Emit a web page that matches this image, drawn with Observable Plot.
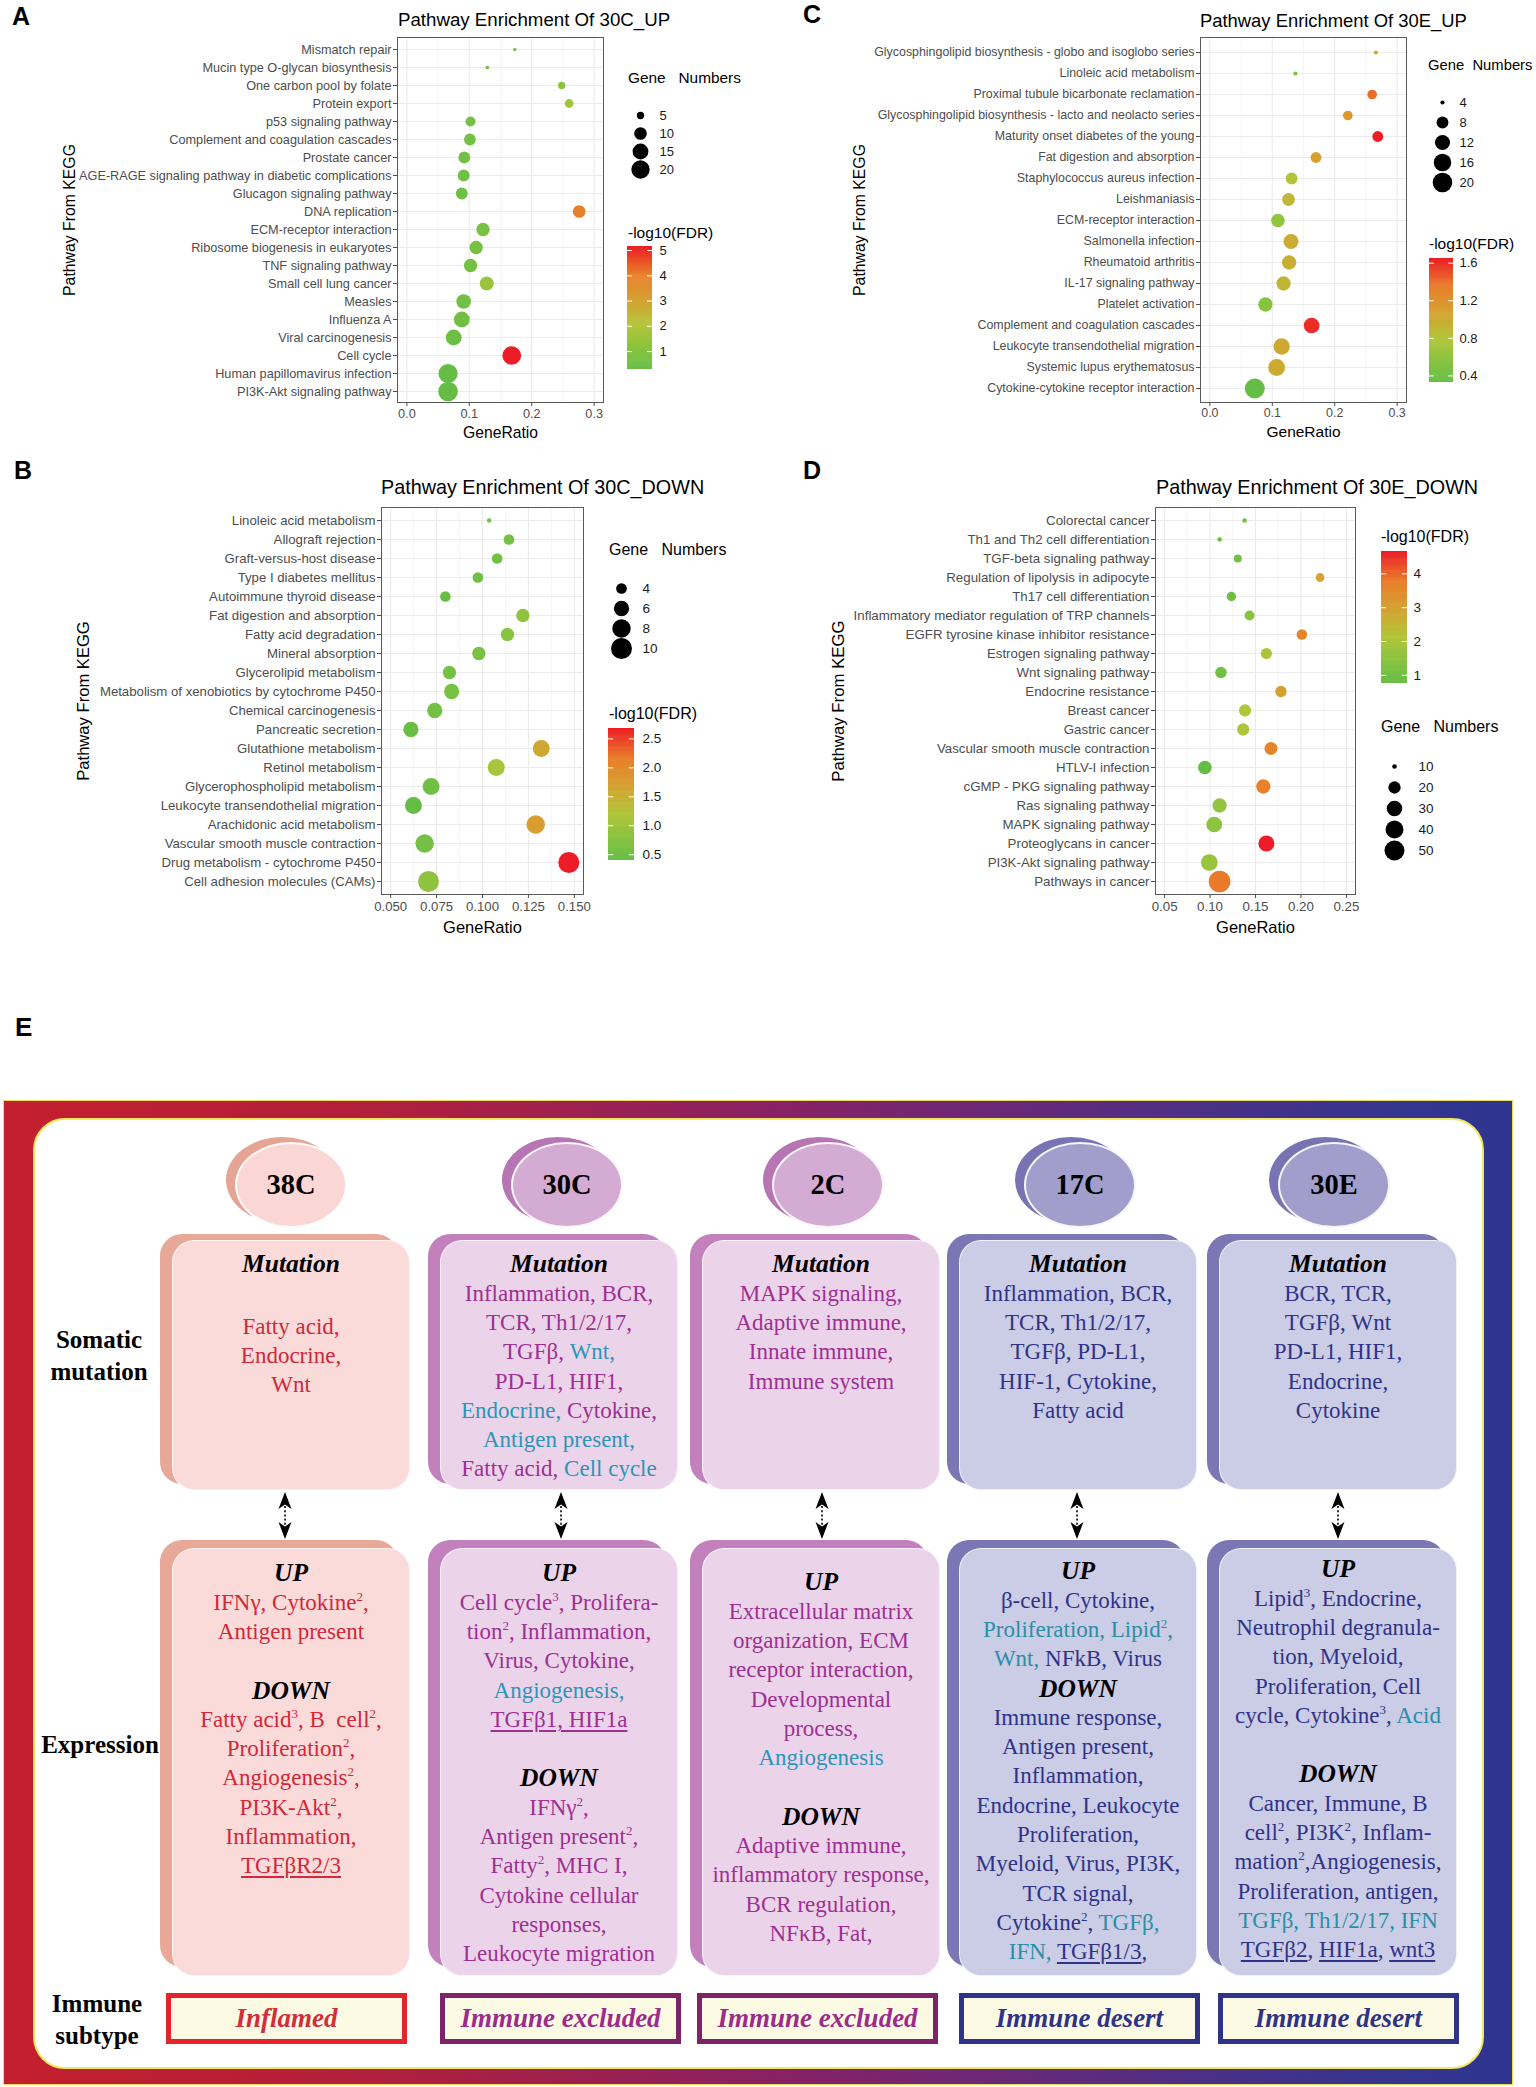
<!DOCTYPE html>
<html><head><meta charset="utf-8">
<script src="https://cdn.jsdelivr.net/npm/d3@7"></script>
<script src="https://cdn.jsdelivr.net/npm/@observablehq/plot@0.6"></script>
<style>
body{margin:0;background:#fff;}
#page{position:relative;width:1536px;height:2087px;overflow:hidden;background:#fff;font-family:"Liberation Sans",Arial,sans-serif;}
.abs{position:absolute;box-sizing:border-box;}
.tb{position:absolute;text-align:center;font-family:"Liberation Serif","Times New Roman",serif;font-size:23px;line-height:29.3px;white-space:nowrap;}
.tb .hd{font-weight:bold;font-style:italic;font-size:25.5px;color:#000;}
.tb .gap{height:33px;}
.tb sup{font-size:13px;vertical-align:9px;line-height:0;}
.tb u{text-decoration-thickness:1.5px;text-underline-offset:3px;}
.rowlab{position:absolute;text-align:center;font-family:"Liberation Serif","Times New Roman",serif;font-weight:bold;font-size:25px;line-height:32px;color:#000;white-space:nowrap;}
</style></head>
<body><div id="page"></div>
<script>
// ---------------- DATA ----------------
const pathwaysA = ["Mismatch repair","Mucin type O-glycan biosynthesis","One carbon pool by folate","Protein export","p53 signaling pathway","Complement and coagulation cascades","Prostate cancer","AGE-RAGE signaling pathway in diabetic complications","Glucagon signaling pathway","DNA replication","ECM-receptor interaction","Ribosome biogenesis in eukaryotes","TNF signaling pathway","Small cell lung cancer","Measles","Influenza A","Viral carcinogenesis","Cell cycle","Human papillomavirus infection","PI3K-Akt signaling pathway"];
const ratioA = [0.173,0.129,0.248,0.260,0.102,0.101,0.092,0.091,0.088,0.276,0.122,0.111,0.102,0.128,0.091,0.088,0.075,0.168,0.066,0.066];
const countA = [4,4,5,6,7,9,9,9,9,10,11,11,11,12,13,15,15,21,22,23];
const fdrA = [1.0,0.5,1.2,1.6,0.6,0.6,0.6,0.55,0.5,4.0,0.75,0.7,0.6,1.5,0.55,0.55,0.45,5.16,0.29,0.3];

const pathwaysB = ["Linoleic acid metabolism","Allograft rejection","Graft-versus-host disease","Type I diabetes mellitus","Autoimmune thyroid disease","Fat digestion and absorption","Fatty acid degradation","Mineral absorption","Glycerolipid metabolism","Metabolism of xenobiotics by cytochrome P450","Chemical carcinogenesis","Pancreatic secretion","Glutathione metabolism","Retinol metabolism","Glycerophospholipid metabolism","Leukocyte transendothelial migration","Arachidonic acid metabolism","Vascular smooth muscle contraction","Drug metabolism - cytochrome P450","Cell adhesion molecules (CAMs)"];
const ratioB = [0.1036,0.1144,0.108,0.0975,0.0798,0.122,0.1136,0.098,0.082,0.0832,0.074,0.061,0.132,0.1075,0.072,0.0624,0.129,0.0685,0.147,0.0706];
const countB = [3,4,4,4,4,5,5,5,5,6,6,6,7,7,7,7,8,8,10,10];
const fdrB = [0.6,0.55,0.55,0.5,0.45,0.85,0.75,0.6,0.55,0.6,0.55,0.45,1.6,1.1,0.5,0.4,1.75,0.55,2.68,0.85];

const pathwaysC = ["Glycosphingolipid biosynthesis - globo and isoglobo series","Linoleic acid metabolism","Proximal tubule bicarbonate reclamation","Glycosphingolipid biosynthesis - lacto and neolacto series","Maturity onset diabetes of the young","Fat digestion and absorption","Staphylococcus aureus infection","Leishmaniasis","ECM-receptor interaction","Salmonella infection","Rheumatoid arthritis","IL-17 signaling pathway","Platelet activation","Complement and coagulation cascades","Leukocyte transendothelial migration","Systemic lupus erythematosus","Cytokine-cytokine receptor interaction"];
const ratioC = [0.266,0.137,0.260,0.221,0.269,0.170,0.131,0.126,0.109,0.130,0.127,0.118,0.089,0.163,0.115,0.107,0.072];
const countC = [4,4,6,6,7,7,8,9,10,12,11,11,11,13,14,15,21];
const fdrC = [1.0,0.45,1.4,1.15,1.65,1.1,0.8,0.9,0.6,1.0,0.97,0.92,0.55,1.6,1.02,1.0,0.33];

const pathwaysD = ["Colorectal cancer","Th1 and Th2 cell differentiation","TGF-beta signaling pathway","Regulation of lipolysis in adipocyte","Th17 cell differentiation","Inflammatory mediator regulation of TRP channels","EGFR tyrosine kinase inhibitor resistance","Estrogen signaling pathway","Wnt signaling pathway","Endocrine resistance","Breast cancer","Gastric cancer","Vascular smooth muscle contraction","HTLV-I infection","cGMP - PKG signaling pathway","Ras signaling pathway","MAPK signaling pathway","Proteoglycans in cancer","PI3K-Akt signaling pathway","Pathways in cancer"];
const ratioD = [0.138,0.1105,0.1305,0.221,0.1235,0.1435,0.201,0.162,0.112,0.178,0.1385,0.1365,0.167,0.0943,0.1586,0.1105,0.1046,0.162,0.0992,0.1105];
const countD = [10,10,12,13,14,15,16,17,18,18,20,20,22,24,26,26,31,32,35,59];
const fdrD = [1.1,0.9,1.0,2.9,0.95,1.4,3.6,2.0,1.0,3.0,2.1,2.05,3.6,0.76,3.7,1.6,1.5,4.66,1.7,3.8];

const titles = ["Pathway Enrichment Of 30C_UP","Pathway Enrichment Of 30C_DOWN","Pathway Enrichment Of 30E_UP","Pathway Enrichment Of 30E_DOWN"];
const sizeBreaksA = [5,10,15,20], sizeBreaksB = [4,6,8,10], sizeBreaksC = [4,8,12,16,20], sizeBreaksD = [10,20,30,40,50];
const colorBreaksA = [1,2,3,4,5], colorBreaksB = [0.5,1.0,1.5,2.0,2.5], colorBreaksC = [0.4,0.8,1.2,1.6], colorBreaksD = [1,2,3,4];

// Panel E content
const groups = ["38C","30C","2C","17C","30E"];
const subtypes = ["Inflamed","Immune excluded","Immune excluded","Immune desert","Immune desert"];
const mutationText = [
  ["Mutation","~","Fatty acid,","Endocrine,","Wnt"],
  ["Mutation","Inflammation, BCR,","TCR, Th1/2/17,","TGFβ, {Wnt,}","PD-L1, HIF1,","{Endocrine,} Cytokine,","{Antigen present,}","Fatty acid, {Cell cycle}"],
  ["Mutation","MAPK signaling,","Adaptive immune,","Innate immune,","Immune system"],
  ["Mutation","Inflammation, BCR,","TCR, Th1/2/17,","TGFβ, PD-L1,","HIF-1, Cytokine,","Fatty acid"],
  ["Mutation","BCR, TCR,","TGFβ, Wnt","PD-L1, HIF1,","Endocrine,","Cytokine"]
];
const expressionText = [
  ["UP","IFNγ, Cytokine^2,","Antigen present","","DOWN","Fatty acid^3, B&nbsp; cell^2,","Proliferation^2,","Angiogenesis^2,","PI3K-Akt^2,","Inflammation,","[TGFβR2/3]"],
  ["UP","Cell cycle^3, Prolifera-","tion^2, Inflammation,","Virus, Cytokine,","{Angiogenesis,}","[TGFβ1, HIF1a]","","DOWN","IFNγ^2,","Antigen present^2,","Fatty^2, MHC I,","Cytokine cellular","responses,","Leukocyte migration"],
  ["UP","Extracellular matrix","organization, ECM","receptor interaction,","Developmental","process,","{Angiogenesis}","","DOWN","Adaptive immune,","inflammatory response,","BCR regulation,","NFκB, Fat,"],
  ["UP","β-cell, Cytokine,","{Proliferation, Lipid^2,}","{Wnt,} NFkB, Virus","DOWN","Immune response,","Antigen present,","Inflammation,","Endocrine, Leukocyte","Proliferation,","Myeloid, Virus, PI3K,","TCR signal,","Cytokine^2, {TGFβ,}","{IFN,} [TGFβ1/3],"],
  ["UP","Lipid^3, Endocrine,","Neutrophil degranula-","tion, Myeloid,","Proliferation, Cell","cycle, Cytokine^3, {Acid}","","DOWN","Cancer, Immune, B","cell^2, PI3K^2, Inflam-","mation^2,Angiogenesis,","Proliferation, antigen,","{TGFβ, Th1/2/17, IFN}","[TGFβ2], [HIF1a], [wnt3]"]
];

// ---------------- helpers ----------------
const page = document.getElementById("page");
const FONT = '"Liberation Sans", Arial, sans-serif';
const rampStops = [0, 0.15, 0.35, 0.56, 0.77, 1];
const rampColors = ["#66bd46","#84c341","#b2c53a","#d5a231","#e97e2a","#ec1d27"];
const ramp = d3.scaleLinear().domain(rampStops).range(rampColors).interpolate(d3.interpolateRgb);
const sqrtInterp = (a, b) => (t) => a + (b - a) * Math.sqrt(Math.max(0, Math.min(1, t)));

function place(node, left, top) {
  node.style.position = "absolute"; node.style.left = left + "px"; node.style.top = top + "px";
  page.appendChild(node);
}

function panel(p) {
  const data = p.names.map((n, i) => ({name: n, ratio: p.ratio[i], count: p.count[i], fdr: p.fdr[i]}));
  const rOpt = {type: "linear", domain: p.rDomain, range: p.rRange, interpolate: sqrtInterp};
  const cOpt = {type: "linear", domain: p.cDomain, interpolate: (t) => ramp(t)};
  const W = p.frame.r - p.svgLeft + 14, H = p.frame.b - p.svgTop + 48;
  const svg = Plot.plot({
    width: W, height: H,
    marginLeft: p.frame.l - p.svgLeft, marginTop: p.frame.t - p.svgTop,
    marginRight: W - (p.frame.r - p.svgLeft), marginBottom: H - (p.frame.b - p.svgTop),
    style: {fontFamily: FONT, background: "transparent", overflow: "visible"},
    x: {domain: p.xDomain},
    y: {type: "point", domain: p.names, padding: 0.6},
    r: rOpt, color: cOpt,
    marks: [
      Plot.ruleX(p.minor, {stroke: "#f3f3f3", strokeWidth: 0.8}),
      Plot.ruleX(p.major, {stroke: "#ebebeb", strokeWidth: 1.1}),
      Plot.ruleY(p.names, {y: d => d, stroke: "#ebebeb", strokeWidth: 1.1}),
      Plot.dot(data, {x: "ratio", y: "name", r: "count", fill: "fdr", stroke: null}),
      Plot.frame({stroke: "#5a5a5a", strokeWidth: 1}),
      Plot.axisY({tickSize: 4, tickPadding: 2, fontSize: p.fs, color: "#4d4d4d", label: null}),
      Plot.axisX({ticks: p.major, tickFormat: d3.format(p.fmt), tickSize: 4, tickPadding: p.xPad, fontSize: p.fs, color: "#4d4d4d", label: null}),
      Plot.text(["GeneRatio"], {text: d => d, frameAnchor: "bottom", lineAnchor: "middle", textAnchor: "middle", dy: p.xTitleDy, fontSize: p.axFs, fill: "#000"}),
      Plot.text(["Pathway From KEGG"], {text: d => d, frameAnchor: "left", lineAnchor: "middle", textAnchor: "middle", dx: p.yTitleDx, rotate: -90, fontSize: p.yFs, fill: "#000"})
    ]
  });
  place(svg, p.svgLeft, p.svgTop);

  // size legend
  const sl = p.sizeLeg, sv = p.sizeBreaks;
  const sTop = sl.y0 - 16, sH = sl.y1 - sl.y0 + 32;
  const ssvg = Plot.plot({
    width: 70, height: sH, margin: 0,
    style: {fontFamily: FONT, background: "transparent", overflow: "visible"},
    y: {type: "point", domain: sv, range: [16, sH - 16], axis: null},
    r: rOpt,
    marks: [
      Plot.dot(sv, {y: d => d, r: d => d, fill: "#000", frameAnchor: "left", dx: sl.dotX - sl.left}),
      Plot.text(sv, {y: d => d, text: d => String(d), frameAnchor: "left", dx: sl.labX - sl.left, textAnchor: "start", fontSize: p.legFs, fill: "#1a1a1a"})
    ]
  });
  place(ssvg, sl.left, sTop);

  // color legend
  const cb = p.cbar, [c0, c1] = p.cDomain, n = 120, step = (c1 - c0) / n;
  const samples = d3.range(n).map(i => c0 + i * step);
  const cH = cb.bottom - cb.top + 20;
  const csvg = Plot.plot({
    width: cb.w + 50, height: cH, margin: 0,
    style: {fontFamily: FONT, background: "transparent", overflow: "visible"},
    x: {domain: [0, 1], range: [0, cb.w], axis: null},
    y: {domain: [c0, c1], range: [cH - 10, 10], axis: null},
    color: cOpt,
    marks: [
      Plot.rect(samples, {x1: 0, x2: 1, y1: d => d, y2: d => Math.min(c1, d + step * 1.6), fill: d => d + step / 2}),
      Plot.ruleY(p.colorBreaks, {y: d => d, x1: 0, x2: 0.2, stroke: "#fff", strokeWidth: 1}),
      Plot.ruleY(p.colorBreaks, {y: d => d, x1: 0.8, x2: 1, stroke: "#fff", strokeWidth: 1}),
      Plot.text(p.colorBreaks, {y: d => d, x: 1, dx: cb.labX - (cb.x + cb.w), text: d => d3.format(p.cFmt)(d), textAnchor: "start", fontSize: p.legFs, fill: "#1a1a1a"})
    ]
  });
  place(csvg, cb.x, cb.top - 10);
}

panel({names: pathwaysA, ratio: ratioA, count: countA, fdr: fdrA,
  svgLeft: 0, svgTop: 0, frame: {l: 397, t: 37, r: 603, b: 402},
  xDomain: [-0.015, 0.315], major: [0, 0.1, 0.2, 0.3], minor: [0.05, 0.15, 0.25], fmt: ".1f",
  rDomain: [4, 23], rRange: [1.8, 9.8], cDomain: [0.29, 5.16], cFmt: "d",
  fs: 12.7, axFs: 15.7, yFs: 15.8, legFs: 13, xPad: 2, xTitleDy: 30, yTitleDx: -328,
  sizeBreaks: sizeBreaksA, sizeLeg: {left: 620, dotX: 640, labX: 659, y0: 104, y1: 179},
  colorBreaks: colorBreaksA, cbar: {x: 627, w: 25, top: 246, bottom: 369, labX: 659}});

panel({names: pathwaysB, ratio: ratioB, count: countB, fdr: fdrB,
  svgLeft: 0, svgTop: 460, frame: {l: 381, t: 507, r: 583, b: 894},
  xDomain: [0.045, 0.155], major: [0.05, 0.075, 0.1, 0.125, 0.15], minor: [0.0625, 0.0875, 0.1125, 0.1375], fmt: ".3f",
  rDomain: [3, 10], rRange: [2.2, 10.5], cDomain: [0.40, 2.68], cFmt: ".1f",
  fs: 13.2, axFs: 16.5, yFs: 16.6, legFs: 13.5, xPad: 3, xTitleDy: 33, yTitleDx: -298,
  sizeBreaks: sizeBreaksB, sizeLeg: {left: 600, dotX: 621, labX: 642, y0: 578, y1: 658},
  colorBreaks: colorBreaksB, cbar: {x: 608, w: 26, top: 728, bottom: 860, labX: 642}});

panel({names: pathwaysC, ratio: ratioC, count: countC, fdr: fdrC,
  svgLeft: 768, svgTop: 0, frame: {l: 1200, t: 37, r: 1406, b: 402},
  xDomain: [-0.015, 0.315], major: [0, 0.1, 0.2, 0.3], minor: [0.05, 0.15, 0.25], fmt: ".1f",
  rDomain: [4, 21], rRange: [2.1, 10], cDomain: [0.33, 1.65], cFmt: ".1f",
  fs: 12.4, axFs: 15.5, yFs: 15.8, legFs: 13, xPad: 2, xTitleDy: 30, yTitleDx: -341,
  sizeBreaks: sizeBreaksC, sizeLeg: {left: 1420, dotX: 1442, labX: 1459, y0: 92, y1: 192},
  colorBreaks: colorBreaksC, cbar: {x: 1429, w: 24, top: 258, bottom: 382, labX: 1459}});

panel({names: pathwaysD, ratio: ratioD, count: countD, fdr: fdrD,
  svgLeft: 768, svgTop: 460, frame: {l: 1155, t: 507, r: 1355, b: 894},
  xDomain: [0.04, 0.26], major: [0.05, 0.1, 0.15, 0.2, 0.25], minor: [0.075, 0.125, 0.175, 0.225], fmt: ".2f",
  rDomain: [10, 59], rRange: [2.3, 10.8], cDomain: [0.76, 4.66], cFmt: "d",
  fs: 13.3, axFs: 16.5, yFs: 16.8, legFs: 13.5, xPad: 3, xTitleDy: 33, yTitleDx: -317,
  sizeBreaks: sizeBreaksD, sizeLeg: {left: 1375, dotX: 1394, labX: 1418, y0: 755, y1: 861},
  colorBreaks: colorBreaksD, cbar: {x: 1381, w: 26, top: 551, bottom: 683, labX: 1413}});

// ---------------- overlay text for panels A-D ----------------
const ov = d3.select(page).append("svg").attr("width", 1536).attr("height", 1060)
  .style("position", "absolute").style("left", "0px").style("top", "0px").style("pointer-events", "none")
  .style("font-family", FONT);
const T = (x, y, s, size, weight) => ov.append("text").attr("x", x).attr("y", y).attr("font-size", size).attr("font-weight", weight || "normal").attr("fill", "#000").text(s);
T(12, 25, "A", 25, "bold"); T(14, 479, "B", 25, "bold"); T(803, 23, "C", 25, "bold"); T(803, 479, "D", 25, "bold"); T(15, 1036, "E", 26, "bold");
T(398, 26, titles[0], 18.7); T(381, 494, titles[1], 19.8); T(1200, 27, titles[2], 18.4); T(1156, 494, titles[3], 19.8);
const GN = "Gene\u00a0\u00a0\u00a0Numbers", GN2 = "Gene\u00a0\u00a0Numbers", LF = "-log10(FDR)";
T(628, 82.5, GN, 15.4); T(628, 237.5, LF, 15.5);
T(609, 554.5, GN, 16); T(609, 718.5, LF, 16);
T(1428, 69.5, GN2, 14.8); T(1429, 248.5, LF, 15.5);
T(1381, 731.5, GN, 16); T(1381, 541.5, LF, 16);

// ---------------- Panel E ----------------
function div(left, top, w, h, css, html) {
  const d = document.createElement("div"); d.className = "abs";
  Object.assign(d.style, {left: left + "px", top: top + "px", width: w + "px", height: h + "px"}, css || {});
  if (html !== undefined) d.innerHTML = html;
  page.appendChild(d); return d;
}
div(3, 1100, 1510, 985, {background: "linear-gradient(to right,#c41f2e 0%,#b11f3d 25%,#8a2162 50%,#6c2876 65%,#4a3087 80%,#35358f 92%,#2e3490 100%)", border: "1.5px solid #e7df5c"});
div(33, 1118, 1451, 951, {background: "#fff", border: "2.5px solid #f1e85c", borderRadius: "32px"});

const pal = [
  {main: "#fbdbd9", shadow: "#e8a898", cmain: "#fad7d5", cshadow: "#e6a494", text: "#d2283a", teal: "#2b95b9", sub: "#e3242b", subText: "#d22d3b"},
  {main: "#ebd4e9", shadow: "#c281bd", cmain: "#d4abd3", cshadow: "#b775b4", text: "#9e2f93", teal: "#2b95b9", sub: "#7d2468", subText: "#9c2c8c"},
  {main: "#ebd4e9", shadow: "#c281bd", cmain: "#d4abd3", cshadow: "#b775b4", text: "#9e2f93", teal: "#2b95b9", sub: "#7d2468", subText: "#9c2c8c"},
  {main: "#cbcce5", shadow: "#7a77b4", cmain: "#a19ecb", cshadow: "#7873b2", text: "#2f3388", teal: "#2a8fa6", sub: "#2e3388", subText: "#2e3388"},
  {main: "#cbcce5", shadow: "#7a77b4", cmain: "#a19ecb", cshadow: "#7873b2", text: "#2f3388", teal: "#2a8fa6", sub: "#2e3388", subText: "#2e3388"}
];
const boxLeft = [172, 440, 702, 959, 1219], boxW = 238;
const circX = [291, 567, 828, 1080, 1334];
const arrowX = [285, 561, 822, 1077, 1338];
const subLeft = [166, 440, 697, 959, 1218];
const expHeader = [1573, 1573, 1582, 1571, 1569];
const LH = 29.3;

function fmtLine(s, c) {
  if (s === "Mutation" || s === "UP" || s === "DOWN") return `<div class="hd">${s}</div>`;
  if (s === "") return "<div>&nbsp;</div>";
  if (s === "~") return '<div class="gap"></div>';
  const h = s.replace(/\{([^}]*)\}/g, `<span style="color:${c.teal}">$1</span>`)
             .replace(/\[([^\]]*)\]/g, "<u>$1</u>")
             .replace(/\^(\d)/g, "<sup>$1</sup>");
  return `<div>${h}</div>`;
}
function textBlock(left, centerY, lines, c) {
  const d = document.createElement("div"); d.className = "tb";
  Object.assign(d.style, {left: (left - 10) + "px", top: (centerY - LH / 2) + "px", width: (boxW + 20) + "px", color: c.text});
  d.innerHTML = lines.map(s => fmtLine(s, c)).join("");
  page.appendChild(d);
}

groups.forEach((g, i) => {
  const c = pal[i], L = boxLeft[i], cx = circX[i];
  // circle
  div(cx - 56 - 9, 1142 - 5, 112, 86, {background: c.cshadow, borderRadius: "50%"});
  div(cx - 56, 1142, 112, 86, {background: c.cmain, borderRadius: "50%", border: "2px solid rgba(255,255,255,0.9)"});
  div(cx - 56, 1142, 112, 86, {display: "flex", alignItems: "center", justifyContent: "center", fontFamily: '"Liberation Serif","Times New Roman",serif', fontWeight: "bold", fontSize: "28.5px", color: "#000"}, g);
  // mutation box
  div(L - 12, 1234, boxW, 250, {background: c.shadow, borderRadius: "22px"});
  div(L, 1240, boxW, 250, {background: c.main, borderRadius: "22px", border: "1.5px solid rgba(255,255,255,0.7)"});
  // expression box
  div(L - 12, 1540, boxW, 427, {background: c.shadow, borderRadius: "22px"});
  div(L, 1548, boxW, 428, {background: c.main, borderRadius: "22px", border: "1.5px solid rgba(255,255,255,0.7)"});
  textBlock(L, 1264, mutationText[i], c);
  textBlock(L, expHeader[i], expressionText[i], c);
  // arrow
  div(arrowX[i] - 8, 1492, 16, 48, {}, `<svg width="16" height="48" viewBox="0 0 16 48"><path d="M8 0 L14.5 17 L8 12.5 L1.5 17 Z" fill="#000"/><line x1="8" y1="14" x2="8" y2="34" stroke="#000" stroke-width="1.6" stroke-dasharray="2 2.2"/><path d="M8 47 L14.5 30 L8 34.5 L1.5 30 Z" fill="#000"/></svg>`);
  // subtype label
  div(subLeft[i], 1993, 241, 51, {background: "#fdfae3", border: `5px solid ${c.sub}`, display: "flex", alignItems: "center", justifyContent: "center", fontFamily: '"Liberation Serif","Times New Roman",serif', fontWeight: "bold", fontStyle: "italic", fontSize: "27px", color: c.subText, whiteSpace: "nowrap"}, subtypes[i]);
});

// row labels
function rowLabel(cx, cy, html, nLines) {
  const d = document.createElement("div"); d.className = "rowlab";
  Object.assign(d.style, {left: (cx - 80) + "px", width: "160px", top: (cy - 16 * nLines) + "px"});
  d.innerHTML = html; page.appendChild(d);
}
rowLabel(99, 1356, "Somatic<br>mutation", 2);
rowLabel(100, 1745, "Expression", 1);
rowLabel(97, 2020, "Immune<br>subtype", 2);
</script>
</body></html>
